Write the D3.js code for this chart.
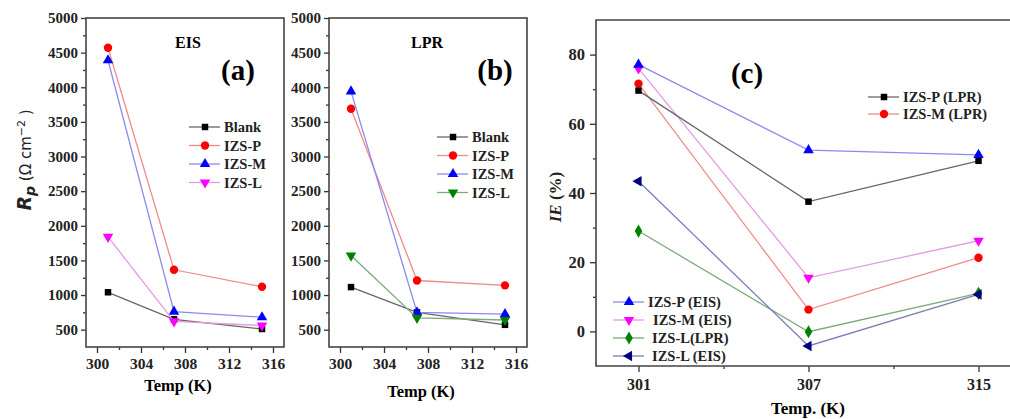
<!doctype html>
<html>
<head>
<style>
  body { margin: 0; background: #fff; }
  svg { display: block; }
</style>
<script src="https://d3js.org/d3.v7.min.js"></script>
</head>
<body>
<svg width="1010" height="419"></svg>
<script>
// ---- data ----
var temps = [301, 307, 315];
var seriesNames = ["Blank", "IZS-P", "IZS-M", "IZS-L"];

// (a) EIS, Rp
var eisBlank = [1040, 650, 510];
var eisP = [4570, 1365, 1120];
var eisM = [4390, 760, 680];
var eisL = [1840, 620, 560];

// (b) LPR, Rp
var lprBlank = [1115, 750, 570];
var lprP = [3690, 1210, 1140];
var lprM = [3940, 750, 725];
var lprL = [1570, 670, 640];

// (c) IE %
var tempLabelsC = ["301", "307", "315"];
var ieNames = ["IZS-P (LPR)", "IZS-M (LPR)", "IZS-P (EIS)", "IZS-M (EIS)", "IZS-L(LPR)", "IZS-L (EIS)"];
var iePLpr = [69.6, 37.5, 49.3];
var ieMLpr = [71.6, 6.3, 21.3];
var iePEis = [77.1, 52.4, 51.0];
var ieMEis = [76.0, 15.5, 26.2];
var ieLLpr = [29.0, -0.1, 11.0];
var ieLEis = [43.4, -4.2, 10.7];

var rpTicks = [500, 1000, 1500, 2000, 2500, 3000, 3500, 4000, 4500, 5000];
var tTicks = [300, 304, 308, 312, 316];
var ieTicks = [0, 20, 40, 60, 80];

var svg = d3.select("svg");
var serif = "'Liberation Serif', 'Times New Roman', serif";

var shapes = {
  square: { type: d3.symbolSquare, size: 42, rot: 0 },
  circle: { type: d3.symbolCircle, size: 55, rot: 0 },
  up: { type: d3.symbolTriangle, size: 48, rot: 0 },
  down: { type: d3.symbolTriangle, size: 48, rot: 180 },
  left: { type: d3.symbolTriangle, size: 48, rot: -90 },
  diamond: { type: d3.symbolDiamond, size: 50, rot: 0 }
};

function marker(g, x, y, shape, color) {
  var s = shapes[shape];
  g.append("path")
    .attr("d", d3.symbol().type(s.type).size(s.size)())
    .attr("transform", "translate(" + x + "," + y + ") rotate(" + s.rot + ")")
    .attr("fill", color);
}

function styleAxis(ax, fs) {
  ax.attr("font-family", serif).attr("font-weight", "bold");
  ax.select(".domain").remove();
  ax.selectAll(".tick line").attr("stroke", "#333").attr("stroke-width", 1.3);
  ax.selectAll(".tick text").attr("fill", "#222")
    .attr("font-family", serif).attr("font-weight", "bold").attr("font-size", fs || 15);
}

function drawSeries(g, xs, ys, vals, xv, shape, color, lineColor) {
  var line = d3.line().x(function(d, i) { return xs(xv[i]); }).y(function(d) { return ys(d); });
  g.append("path").datum(vals)
    .attr("d", line).attr("fill", "none")
    .attr("stroke", lineColor).attr("stroke-width", 1.3);
  vals.forEach(function(v, i) { marker(g, xs(xv[i]), ys(v), shape, color); });
}

function legend(g, x, y, dy, items) {
  items.forEach(function(it, i) {
    var yy = y + i * dy;
    g.append("line").attr("x1", x).attr("x2", x + 31).attr("y1", yy).attr("y2", yy)
      .attr("stroke", it.line).attr("stroke-width", 1.3);
    marker(g, x + 16, yy, it.shape, it.color);
    g.append("text").attr("x", x + 35 + (it.off || 0)).attr("y", yy + 5)
      .attr("font-family", serif).attr("font-weight", "bold").attr("font-size", 14.5)
      .attr("fill", "#222").text(it.name);
  });
}

// ---- panels (a) and (b) ----
function rpPanel(left, right, series, title, tag, pos, showYLabel) {
  var top = 18, bottom = 347;
  var x = d3.scaleLinear().domain([299, 317]).range([left, right]);
  var y = d3.scaleLinear().domain([250, 5000]).range([bottom, top]);
  var g = svg.append("g");

  var xa = g.append("g").attr("transform", "translate(0," + bottom + ")")
    .call(d3.axisBottom(x).tickValues(tTicks).tickSize(6).tickPadding(5).tickFormat(d3.format("d")));
  styleAxis(xa, 15.5);
  var xm = g.append("g").attr("transform", "translate(0," + bottom + ")")
    .call(d3.axisBottom(x).tickValues([302, 306, 310, 314]).tickSize(3).tickFormat(""));
  styleAxis(xm);

  var ya = g.append("g").attr("transform", "translate(" + left + ",0)")
    .call(d3.axisLeft(y).tickValues(rpTicks).tickSize(5).tickPadding(3).tickFormat(d3.format("d")));
  styleAxis(ya, 15);
  var ym = g.append("g").attr("transform", "translate(" + left + ",0)")
    .call(d3.axisLeft(y).tickValues(d3.range(750, 5000, 500)).tickSize(3).tickFormat(""));
  styleAxis(ym);

  g.append("rect").attr("x", left).attr("y", top).attr("width", right - left).attr("height", bottom - top)
    .attr("fill", "none").attr("stroke", "#444").attr("stroke-width", 1.6);

  series.forEach(function(s) {
    drawSeries(g, x, y, s.vals, temps, s.shape, s.color, s.line);
  });

  g.append("text").attr("x", pos.tx).attr("y", 48).attr("text-anchor", "middle")
    .attr("font-family", serif).attr("font-weight", "bold").attr("font-size", 16).text(title);
  g.append("text").attr("x", pos.ax).attr("y", 80).attr("text-anchor", "middle")
    .attr("font-family", serif).attr("font-weight", "bold").attr("font-size", 29).text(tag);

  legend(g, pos.x, pos.y, 18.5, series);

  g.append("text").attr("x", (left + right) / 2 - 7).attr("y", pos.xl)
    .attr("text-anchor", "middle").attr("font-family", serif).attr("font-weight", "bold")
    .attr("font-size", 16.5).text("Temp (K)");

  if (showYLabel) {
    var t = g.append("text").attr("transform", "translate(31,160) rotate(-90)")
      .attr("text-anchor", "middle").attr("font-family", "'DejaVu Sans', Arial, sans-serif")
      .attr("font-size", 15).attr("fill", "#222");
    t.append("tspan").attr("font-style", "italic").attr("font-weight", "bold").attr("font-size", 19).text("R");
    t.append("tspan").attr("font-style", "italic").attr("font-weight", "bold").attr("font-size", 14).attr("dy", 4).text("p");
    t.append("tspan").attr("dy", -4).text(" (\u03A9 cm");
    t.append("tspan").attr("dy", -6).attr("font-size", 11).text("\u22122");
    t.append("tspan").attr("dy", 6).text(" )");
  }
}

rpPanel(86, 284, [
  { name: "Blank", vals: eisBlank, shape: "square", color: "#000", line: "#666" },
  { name: "IZS-P", vals: eisP, shape: "circle", color: "#f00", line: "#f08a8a" },
  { name: "IZS-M", vals: eisM, shape: "up", color: "#00f", line: "#8a8af2" },
  { name: "IZS-L", vals: eisL, shape: "down", color: "#f0f", line: "#e39be3" }
], "EIS", "(a)", { x: 189, y: 127, tx: 188, ax: 238, xl: 391 }, true);

rpPanel(329, 527, [
  { name: "Blank", vals: lprBlank, shape: "square", color: "#000", line: "#666" },
  { name: "IZS-P", vals: lprP, shape: "circle", color: "#f00", line: "#f08a8a" },
  { name: "IZS-M", vals: lprM, shape: "up", color: "#00f", line: "#8a8af2" },
  { name: "IZS-L", vals: lprL, shape: "down", color: "#008000", line: "#7aab7a" }
], "LPR", "(b)", { x: 437, y: 137, tx: 427, ax: 495, xl: 397 }, false);

// ---- panel (c) ----
(function() {
  var left = 596, top = 20, bottom = 366, right = 1010;
  var x = d3.scaleLinear().domain([-0.25, 2.25]).range([left, 1021]);
  var y = d3.scaleLinear().domain([-10, 90]).range([bottom, top]);
  var g = svg.append("g");

  var xa = g.append("g").attr("transform", "translate(0," + bottom + ")")
    .call(d3.axisBottom(x).tickValues([0, 1, 2]).tickSize(6).tickPadding(7)
      .tickFormat(function(i) { return tempLabelsC[i]; }));
  styleAxis(xa, 16);
  var xm = g.append("g").attr("transform", "translate(0," + bottom + ")")
    .call(d3.axisBottom(x).tickValues([0.5, 1.5]).tickSize(3).tickFormat(""));
  styleAxis(xm);

  var ya = g.append("g").attr("transform", "translate(" + left + ",0)")
    .call(d3.axisLeft(y).tickValues(ieTicks).tickSize(6).tickPadding(5));
  styleAxis(ya, 16.5);
  var ym = g.append("g").attr("transform", "translate(" + left + ",0)")
    .call(d3.axisLeft(y).tickValues([10, 30, 50, 70]).tickSize(3).tickFormat(""));
  styleAxis(ym);

  g.append("path").attr("d", "M" + right + "," + top + "H" + left + "V" + bottom + "H" + right)
    .attr("fill", "none").attr("stroke", "#444").attr("stroke-width", 1.6);

  var idx = [0, 1, 2];
  var series = [
    { name: ieNames[4], vals: ieLLpr, shape: "diamond", color: "#008000", line: "#7aab7a" },
    { name: ieNames[5], vals: ieLEis, shape: "left", color: "#000080", line: "#7c7cb8" },
    { name: ieNames[1], vals: ieMLpr, shape: "circle", color: "#f00", line: "#f08a8a" },
    { name: ieNames[3], vals: ieMEis, shape: "down", color: "#f0f", line: "#e39be3" },
    { name: ieNames[0], vals: iePLpr, shape: "square", color: "#000", line: "#666" },
    { name: ieNames[2], vals: iePEis, shape: "up", color: "#00f", line: "#8a8af2" }
  ];
  series.forEach(function(s) { drawSeries(g, x, y, s.vals, idx, s.shape, s.color, s.line); });

  legend(g, 868, 97, 17, [series[4], series[2]]);
  legend(g, 613, 302, 18, [
    series[5],
    Object.assign({}, series[3], { off: 5 }),
    Object.assign({}, series[0], { off: 4 }),
    Object.assign({}, series[1], { off: 4 })
  ]);

  g.append("text").attr("x", 747).attr("y", 83).attr("text-anchor", "middle")
    .attr("font-family", serif).attr("font-weight", "bold").attr("font-size", 29).text("(c)");

  g.append("text").attr("x", 808).attr("y", 414).attr("text-anchor", "middle")
    .attr("font-family", serif).attr("font-weight", "bold").attr("font-size", 17).text("Temp. (K)");

  var t = g.append("text").attr("transform", "translate(561,197) rotate(-90)")
    .attr("text-anchor", "middle").attr("font-family", serif).attr("font-weight", "bold")
    .attr("font-size", 17).attr("fill", "#222");
  t.append("tspan").attr("font-style", "italic").text("IE");
  t.append("tspan").text(" (%)");
})();
</script>
</body>
</html>
